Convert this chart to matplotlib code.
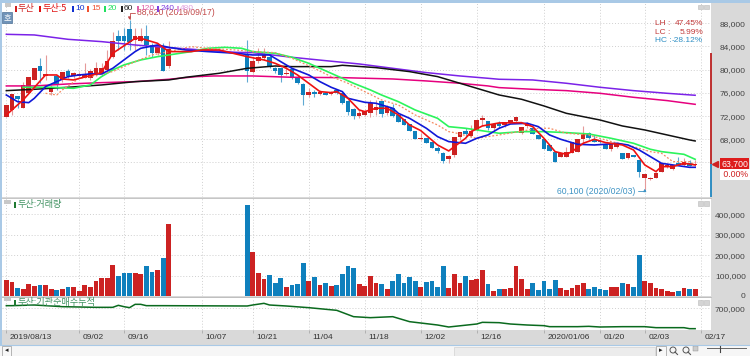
import matplotlib
matplotlib.use('Agg')
import matplotlib.pyplot as plt
from matplotlib.patches import Rectangle, Circle
from matplotlib.transforms import ScaledTranslation

KR = ['Noto Sans CJK KR', 'DejaVu Sans']
NUM = 'Liberation Sans'

# daily candles (gap of missing days in between)
candle_idx = list(range(30)) + list(range(43, 124))
opens = [71800, 73060, 75470, 73350, 75930, 78230, 80640, 78920, 76220, 78920,
         78230, 79720, 78920, 78920, 78520, 78520, 79270, 79270, 79950, 82140,
         85820, 85820, 86960, 85130, 85010, 85820, 84260, 82830, 83690, 80640,
         82540, 79670, 81510, 81970, 82140, 80240, 80240, 79270, 80070, 78690,
         77540, 75640, 76220, 75820, 75930, 75760, 76510, 75930, 74610, 73230,
         72020, 72200, 72480, 73060, 74610, 72600, 73350, 72200, 71450, 70590,
         69500, 68060, 68170, 67600, 66560, 65590, 64550, 65300, 68400, 69500,
         68630, 69610, 71330, 71160, 69900, 70870, 70470, 70870, 71220, 69150,
         70300, 69900, 68750, 68000, 67020, 65870, 65010, 65010, 65590, 65760,
         68060, 69040, 68000, 67770, 67020, 66280, 66740, 65700, 64840, 65300,
         64440, 61280, 61160, 61390, 62310, 63290, 62830, 63980, 63580, 63860, 63550]
highs = [73900, 75820, 75470, 77940, 78690, 80240, 81970, 82540, 77370, 78920,
         79670, 80070, 79670, 79670, 81100, 80070, 81390, 81100, 83400, 86560,
         86850, 87140, 88580, 87140, 87140, 87740, 84550, 84550, 84550, 85010,
         85130, 82250, 83810, 83810, 82540, 80530, 80530, 80820, 80240, 79090,
         77660, 76790, 76510, 76510, 76050, 76390, 76620, 76220, 74780, 73350,
         73060, 73060, 74780, 74780, 74610, 73920, 74090, 72200, 71450, 70590,
         69500, 69040, 68170, 67600, 66850, 65870, 65300, 68350, 69270, 69900,
         70470, 71450, 72200, 71160, 70870, 71100, 71050, 71330, 71910, 70180,
         70900, 70200, 68750, 68000, 67020, 65870, 65590, 66600, 67480, 68000,
         70300, 69320, 68800, 68000, 67020, 67310, 67310, 65700, 65700, 65300,
         64440, 62030, 61500, 62300, 63980, 63900, 63580, 65010, 64720, 64440, 64440]
lows = [71800, 72200, 73350, 73350, 75930, 78230, 77660, 78230, 75640, 76510,
        77940, 78520, 78520, 78690, 78520, 78230, 78920, 78920, 79840, 81970,
        83400, 83400, 83400, 83400, 84840, 82540, 82250, 82540, 79840, 80240,
        77940, 79380, 81100, 81680, 80240, 79500, 77940, 79090, 78350, 77540,
        73920, 75360, 75360, 75640, 75590, 75640, 75820, 74090, 72200, 71510,
        71620, 72020, 71910, 72200, 71910, 72200, 71910, 71050, 70470, 69440,
        68000, 67890, 67430, 66450, 65700, 63860, 63860, 64900, 67890, 68630,
        68460, 69500, 70470, 69610, 69500, 70000, 70200, 70640, 71000, 68900,
        70000, 68920, 68060, 66330, 66050, 64000, 65010, 64900, 65590, 65760,
        67310, 68000, 67480, 67400, 66330, 66000, 66500, 64550, 64590, 65000,
        61560, 59260, 61000, 61390, 62310, 63000, 62700, 63580, 63400, 63400, 63400]
closes = [73900, 75820, 74900, 77370, 78690, 80240, 79840, 79270, 76970, 77370,
          79550, 78920, 79500, 79270, 79090, 79840, 80240, 80300, 81510, 85010,
          85010, 85010, 84840, 85820, 85820, 84260, 82830, 84260, 79840, 83520,
          79840, 81510, 82250, 82540, 80530, 79780, 79090, 79500, 78520, 77660,
          75640, 76100, 75760, 76220, 75640, 76220, 75930, 74210, 72770, 72080,
          72600, 72950, 74210, 73520, 72370, 73630, 72080, 71050, 70470, 69440,
          68000, 68170, 67430, 66450, 66050, 64270, 65180, 68350, 69270, 68920,
          69500, 71330, 71620, 69900, 70640, 70300, 71050, 71330, 71910, 70180,
          70750, 68920, 68060, 66330, 66050, 64030, 65590, 65870, 67480, 68000,
          68920, 68170, 67480, 67480, 66330, 67310, 67310, 64550, 65700, 65010,
          62310, 62030, 61280, 62250, 63980, 63580, 63580, 63580, 64150, 63400, 63700]
volumes = [78700, 68800, 39300, 34400, 59000, 49200, 55700, 52400, 32800, 29500,
           32800, 42600, 42600, 23000, 55700, 45900, 72100, 88500, 88500, 152400,
           98300, 113100, 113100, 113100, 106500, 145900, 116400, 127800, 188500, 352400,
           447400, 214700, 114700, 82000, 103300, 65600, 88500, 44300, 55700, 59000,
           162300, 75400, 91800, 55700, 62300, 49200, 55700, 108200, 149100, 136000,
           59000, 49200, 98300, 65600, 59000, 32800, 72100, 106500, 65600, 95100,
           72100, 42600, 68800, 75400, 42600, 145900, 39300, 106500, 62300, 98300,
           78700, 85200, 126200, 59000, 23000, 32800, 32800, 37700, 145900, 85200,
           36100, 62300, 31100, 72100, 36100, 78700, 39300, 31100, 39300, 55700,
           62300, 36100, 42600, 32800, 29500, 42600, 42600, 62300, 59000, 45900,
           201600, 75400, 65600, 39300, 36100, 26200, 19700, 26200, 39300, 36100, 32800]

# moving averages, read at the bends of each line
ma5_idx = [0, 3, 7, 9, 10, 12, 17, 19, 23, 24, 27, 29, 33, 35, 38, 43, 46, 48, 50, 52, 54, 56, 58, 59, 61, 63, 64,
           66, 68, 70, 72, 74, 77, 79, 80, 82, 83, 85, 88, 92, 94, 96, 98, 100, 101, 103, 105, 107, 108, 110, 112,
           114, 116, 117, 119, 121, 123]
ma5 = [72200, 74780, 79090, 79090, 78400, 78230, 79500, 82830, 85410, 85410, 84550, 83120, 83120, 83400, 83400,
       82250, 81680, 81100, 80240, 79090, 77660, 76220, 76050, 76220, 75070, 73060, 72770, 73350, 73350, 72200,
       70470, 69500, 67020, 65990, 66740, 68170, 69320, 70300, 70820, 70870, 70180, 68170, 65870, 65410, 65870,
       67310, 68000, 67430, 67310, 67020, 66160, 63580, 62430, 63290, 63290, 63860, 63580]
ma10_idx = [0, 2, 4, 5, 7, 9, 11, 13, 15, 17, 19, 21, 23, 24, 27, 29, 32, 36, 41, 44, 47, 49, 51, 54, 56, 58, 60,
            61, 64, 66, 69, 70, 72, 75, 77, 79, 82, 84, 86, 88, 90, 93, 95, 97, 99, 102, 105, 107, 109, 111, 113,
            116, 117, 119, 122, 123]
ma10 = [75640, 74490, 74320, 75070, 77080, 77940, 78810, 79090, 79270, 79270, 80240, 81680, 83120, 83690, 84260,
        83860, 83400, 83120, 82830, 82540, 82540, 81390, 80240, 79090, 77940, 76970, 76220, 75070, 74380, 74210,
        73350, 72480, 71620, 69900, 68460, 67600, 67310, 68170, 68750, 69900, 70640, 70760, 70180, 68750, 68000,
        67140, 67020, 67140, 67310, 67020, 66160, 64440, 63860, 63580, 63170, 63170]
ma15_idx = [7, 9, 10, 13, 15, 19, 23, 26, 29, 33, 36, 41, 44, 48, 51, 55, 58, 61, 64, 67, 70, 73, 77, 79, 80, 84,
            88, 95, 97, 100, 104, 108, 112, 115, 117, 119, 122, 123]
ma15 = [75930, 75640, 76510, 78520, 78810, 79670, 81390, 82540, 83120, 83980, 83690, 83400, 83120, 82940, 81970,
        80240, 78810, 77660, 76220, 74780, 73920, 72200, 70470, 69320, 69150, 68170, 68750, 69900, 69900, 69040,
        68750, 67600, 66740, 65870, 65590, 64150, 64150, 63580]
ma20_idx = [3, 8, 12, 15, 17, 19, 21, 24, 27, 29, 33, 36, 39, 42, 44, 48, 51, 54, 58, 62, 65, 67, 70, 73, 77, 79,
            82, 84, 88, 92, 96, 100, 104, 108, 112, 115, 117, 121, 123]
ma20 = [76970, 76970, 76790, 77370, 78810, 79950, 80820, 81680, 82250, 82540, 83120, 83690, 83860, 83690, 83120,
        82830, 82140, 81100, 79380, 77660, 76510, 75640, 74490, 73060, 71620, 70180, 69900, 69610, 69040, 69320,
        69320, 69150, 68920, 68170, 67310, 66280, 65870, 65410, 64550]
ma60_idx = [0, 5, 11, 17, 23, 29, 32, 38, 43, 48, 51, 58, 60, 66, 72, 77, 81, 86, 88, 92, 96, 100, 106, 110, 114,
            118, 122, 123]
ma60 = [76390, 76620, 76970, 77370, 77940, 78230, 78690, 79380, 80240, 80640, 80530, 80530, 80760, 80360, 79670,
        78810, 77660, 76220, 75640, 74900, 73750, 72480, 71330, 70300, 69610, 68750, 67890, 67710]
ma120_idx = [0, 5, 11, 17, 23, 29, 34, 37, 44, 51, 60, 69, 75, 81, 86, 88, 94, 100, 106, 112, 118, 123]
ma120 = [77200, 77200, 77540, 77770, 77940, 78350, 78810, 78920, 78920, 78690, 78630, 78400, 78060, 77660, 77200,
         76910, 76620, 76390, 75930, 75240, 74670, 74030]
ma240_idx = [0, 5, 11, 17, 23, 29, 35, 41, 44, 51, 57, 63, 69, 75, 81, 86, 88, 94, 100, 106, 112, 118, 123]
ma240 = [86100, 85990, 85240, 84840, 84260, 83800, 83400, 83000, 82940, 82140, 81560, 80990, 80240, 79500, 78920,
         78520, 78350, 78230, 77660, 76970, 76390, 75930, 75590]

# institutional net buying, cumulative
cum_idx = [0, 1, 5, 10, 16, 19, 20, 21, 22, 23, 24, 25, 28, 43, 44, 46, 47, 50, 54, 59, 62, 65, 69, 72, 77, 79, 84,
           85, 88, 90, 93, 96, 97, 102, 104, 106, 110, 114, 116, 121, 122, 123]
cum = [740000, 740000, 750000, 725000, 715000, 715000, 745000, 725000, 710000, 760000, 760000, 740000, 740000,
       735000, 750000, 775000, 750000, 735000, 710000, 670000, 575000, 560000, 575000, 500000, 450000, 420000,
       465000, 490000, 485000, 465000, 450000, 440000, 425000, 425000, 430000, 420000, 425000, 425000, 410000,
       410000, 395000, 395000]

price_ticks = [88000, 84000, 80000, 76000, 72000, 68000, 64000]
price_labels = ['88,000', '84,000', '80,000', '76,000', '72,000', '68,000', '']
vol_ticks = [0, 100000, 200000, 300000, 400000]
vol_labels = ['0', '100,000', '200,000', '300,000', '400,000']
date_ticks = [0, 13, 21, 35, 44, 54, 64, 74, 84, 96, 106, 114, 124]
date_labels = ['2019/08/13', '09/02', '09/16', '10/07', '10/21', '11/04', '11/18', '12/02', '12/16',
               '2020/01/06', '01/20', '02/03', '02/17']

legend_labels = ['두산', '두산:5', '10', '15', '20', '60', '120', '240', '480']
legend_colors = ['#d02020', '#e01010', '#1030d0', '#f05030', '#20e060', '#222222', '#e060a8', '#8040e0', '#e0a0e0']

RED = '#cc2222'
BLUE = '#0f80bd'
RED_W = '#e59a9a'
BLUE_W = '#5fa9d3'
GRID = '#cfcfcf'
STRIP = '#d9d9d9'

fig = plt.figure(figsize=(7.5, 3.56), dpi=100, facecolor=STRIP)


def px_axes(top, bottom, left=2, right=711):
    return fig.add_axes([left / 750, 1 - bottom / 356, (right - left) / 750, (bottom - top) / 356])


ax1 = px_axes(3, 197)
ax2 = px_axes(198, 296)
ax3 = px_axes(298, 330)
xlim = (-0.773, 125.83)

for ax in (ax1, ax2, ax3):
    ax.set_xlim(xlim)
    ax.set_xticks(date_ticks)
    ax.yaxis.tick_right()
    ax.grid(True, color=GRID, lw=0.7, linestyle=(0, (1, 2)))
    ax.set_axisbelow(True)
    for s in ax.spines.values():
        s.set_visible(False)
ax1.tick_params(axis='x', length=0, labelbottom=False)
ax2.tick_params(axis='x', length=0, labelbottom=False)

# price panel
ax1.set_ylim(58050, 91500)
ax1.set_yticks(price_ticks, price_labels)
body_cols = [RED if c >= o else BLUE for o, c in zip(opens, closes)]
wick_cols = [RED_W if c >= o else BLUE_W for o, c in zip(opens, closes)]
ax1.vlines(candle_idx, lows, highs, colors=wick_cols, lw=0.8, zorder=2)
ax1.bar(candle_idx, [max(abs(c - o), 150) for o, c in zip(opens, closes)],
        bottom=[min(o, c) for o, c in zip(opens, closes)], width=0.82, color=body_cols, zorder=3)
ax1.plot(ma240_idx, ma240, color='#7b22e8', lw=1.1, zorder=4)
ax1.plot(ma120_idx, ma120, color='#e6007e', lw=1.1, zorder=4)
ax1.plot(ma60_idx, ma60, color='#111111', lw=1.1, zorder=5)
ax1.plot(ma20_idx, ma20, color='#2cf45c', lw=1.2, zorder=5)
ax1.plot(ma15_idx, ma15, color='#f58a60', lw=0.9, linestyle=(0, (1.5, 1.5)), zorder=5)
ax1.plot(ma10_idx, ma10, color='#1018d8', lw=1.2, zorder=6)
ax1.plot(ma5_idx, ma5, color='#ee1111', lw=1.2, zorder=7)

ax1.annotate('88,620 (2019/09/17)', xy=(22, 88580), xytext=(23.4, 89780), family=NUM, fontsize=6.2,
             color='#c24a4a', va='center', zorder=8,
             arrowprops=dict(arrowstyle='-|>', color='#c24a4a', lw=0.6, mutation_scale=4, shrinkA=0, shrinkB=0,
                             connectionstyle='angle,angleA=0,angleB=90'))
ax1.annotate('60,100 (2020/02/03)', xy=(114, 59500), xytext=(112.3, 59000), family=NUM, fontsize=6.2,
             color='#3d93c4', va='center', ha='right', zorder=8, annotation_clip=False,
             arrowprops=dict(arrowstyle='-|>', color='#3d93c4', lw=0.6, mutation_scale=4, shrinkA=0, shrinkB=0,
                             connectionstyle='angle,angleA=0,angleB=90'))

# range bar on the edge of the price panel and the last price tag
ax1.vlines(xlim[1], 63700, 82950, color='#bb2020', lw=1.3, clip_on=False, zorder=8)
ax1.vlines(xlim[1], 58050, 63700, color='#1f86bf', lw=1.3, clip_on=False, zorder=8)
yt = ax1.get_yaxis_transform()
ax1.plot([1.0055], [closes[-1]], marker='<', ms=4, color='#d02020', transform=yt, clip_on=False)
ax1.text(1.0145, closes[-1], '63,700', transform=yt, family=NUM, fontsize=6.3, color='white', va='center', ha='left',
         bbox=dict(boxstyle='square,pad=0.15', fc='#dd1c1c', ec='none'), clip_on=False)
ax1.text(1.0145, 61960, ' 0.00%', transform=yt, family=NUM, fontsize=6.3, color='#d02020', va='center', ha='left',
         bbox=dict(boxstyle='square,pad=0.15', fc='white', ec='none'), clip_on=False)

# volume panel
ax2.set_ylim(0, 480000)
ax2.set_yticks(vol_ticks, vol_labels)
ax2.bar(candle_idx, volumes, width=0.85, color=body_cols, zorder=3)

# cumulative panel
ax3.set_ylim(375000, 855000)
ax3.set_yticks([700000], ['700,000'])
ax3.plot(cum_idx, cum, color='#0a6a1e', lw=1.1, zorder=3)
ax3.set_xticks(date_ticks, date_labels, family=NUM, fontsize=6, color='#333333')
ax3.tick_params(axis='x', length=2, width=0.6, color='#aaaaaa', pad=1)
shift = ScaledTranslation(2.5 / 72, 0, fig.dpi_scale_trans)
for lab in ax3.get_xticklabels():
    lab.set_ha('left')
    lab.set_transform(lab.get_transform() + shift)

# right aligned value labels, ending 35 px right of the panels
for ax in (ax1, ax2, ax3):
    ax.tick_params(axis='y', length=0, labelsize=6, pad=25, labelcolor='#444444')
    for lab in ax.get_yticklabels():
        lab.set_fontfamily(NUM)
        lab.set_ha('right')

# window chrome drawn in pixel coordinates
top = fig.add_axes([0, 0, 1, 1], zorder=10)
top.set_xlim(0, 750)
top.set_ylim(356, 0)
top.axis('off')
top.add_patch(Rectangle((0, 0), 750, 3, fc='#a9c9e6', ec='none'))
top.add_patch(Rectangle((0, 0), 2, 345, fc='#a9c9e6', ec='none'))
top.add_patch(Rectangle((0, 345), 750, 11, fc='#f6f6f6', ec='none'))
top.plot([0, 750], [345, 345], color='#a9c9e6', lw=0.8)
top.plot([2, 711], [197.5, 197.5], color='#bbbbbb', lw=0.6)
top.plot([2, 711], [297, 297], color='#bbbbbb', lw=0.6)

# legend of the price panel
legend_bar_x = [15, 39, 72, 87, 104, 121, 137, 157, 177]
legend_text_x = [18, 43, 75, 91, 108, 124, 140, 161, 180]
for bx, tx, name, col in zip(legend_bar_x, legend_text_x, legend_labels, legend_colors):
    top.add_patch(Rectangle((bx, 6), 2, 6, fc=col, ec='none'))
    if name.isdigit():
        top.text(tx, 9, name, family=NUM, fontsize=6, color=col, va='center', ha='left')
    else:
        top.text(tx, 9, name, family=KR, fontsize=6.6, color=col, va='center', ha='left')
top.add_patch(Rectangle((2, 12), 10, 11, fc='#6f93b8', ec='#4f7398', lw=0.5))
top.text(7, 17.5, '호', family=KR, fontsize=6, color='white', va='center', ha='center')
top.add_patch(Rectangle((5, 3), 6, 4, fc='#c8c8c8', ec='none'))

for ty, name in [(205, '두산:거래량'), (302.5, '두산:기관순매수누적')]:
    top.add_patch(Rectangle((14, ty - 3), 1.8, 6, fc='#1f7a32', ec='none'))
    top.text(18, ty, name, family=KR, fontsize=6.6, color='#3f9160', va='center', ha='left')
    top.add_patch(Rectangle((4, ty - 5), 7, 3.5, fc='#c8c8c8', ec='none'))

# small window buttons on each panel
for by in (4.5, 201, 300):
    top.add_patch(Rectangle((698, by), 4.5, 4.5, fc='#d4d4d4', ec='#bbbbbb', lw=0.4))
    top.add_patch(Rectangle((704, by), 4.5, 4.5, fc='#d4d4d4', ec='#bbbbbb', lw=0.4))

# statistics block
for sy, name, val, col in [(23.5, 'LH :', '47.45%', '#c23b3b'), (32, 'LC :', '5.99%', '#c23b3b'),
                           (40.5, 'HC :', '-28.12%', '#2f8fc4')]:
    top.text(655, sy, name, family=NUM, fontsize=6, color=col, va='center', ha='left')
    top.text(703, sy, val, family=NUM, fontsize=6, color=col, va='center', ha='right')

# toolbar along the bottom
top.add_patch(Rectangle((2, 346), 9, 9.5, fc='#f8f8f8', ec='#999999', lw=0.5))
top.text(6.5, 350.5, '◂', fontsize=5, color='#222222', ha='center', va='center')
top.add_patch(Rectangle((454, 347), 201, 9, fc='#ececec', ec='#cccccc', lw=0.4))
top.add_patch(Rectangle((656, 346), 10, 10, fc='#f8f8f8', ec='#999999', lw=0.5))
top.text(661, 350.5, '▸', fontsize=5, color='#222222', ha='center', va='center')
for cx in (673, 686):
    top.add_patch(Circle((cx, 350), 3, fc='none', ec='#555555', lw=0.7))
    top.plot([cx + 2, cx + 4.5], [352, 354.5], color='#555555', lw=0.8)
top.add_patch(Rectangle((693, 346), 5, 5, fc='#cccccc', ec='#888888', lw=0.3))
top.plot([707, 746], [348, 348], color='#666666', lw=0.7)
top.plot([720, 720], [346, 352], color='#444444', lw=0.8)

fig.savefig('out.png', dpi=100, facecolor=fig.get_facecolor())
